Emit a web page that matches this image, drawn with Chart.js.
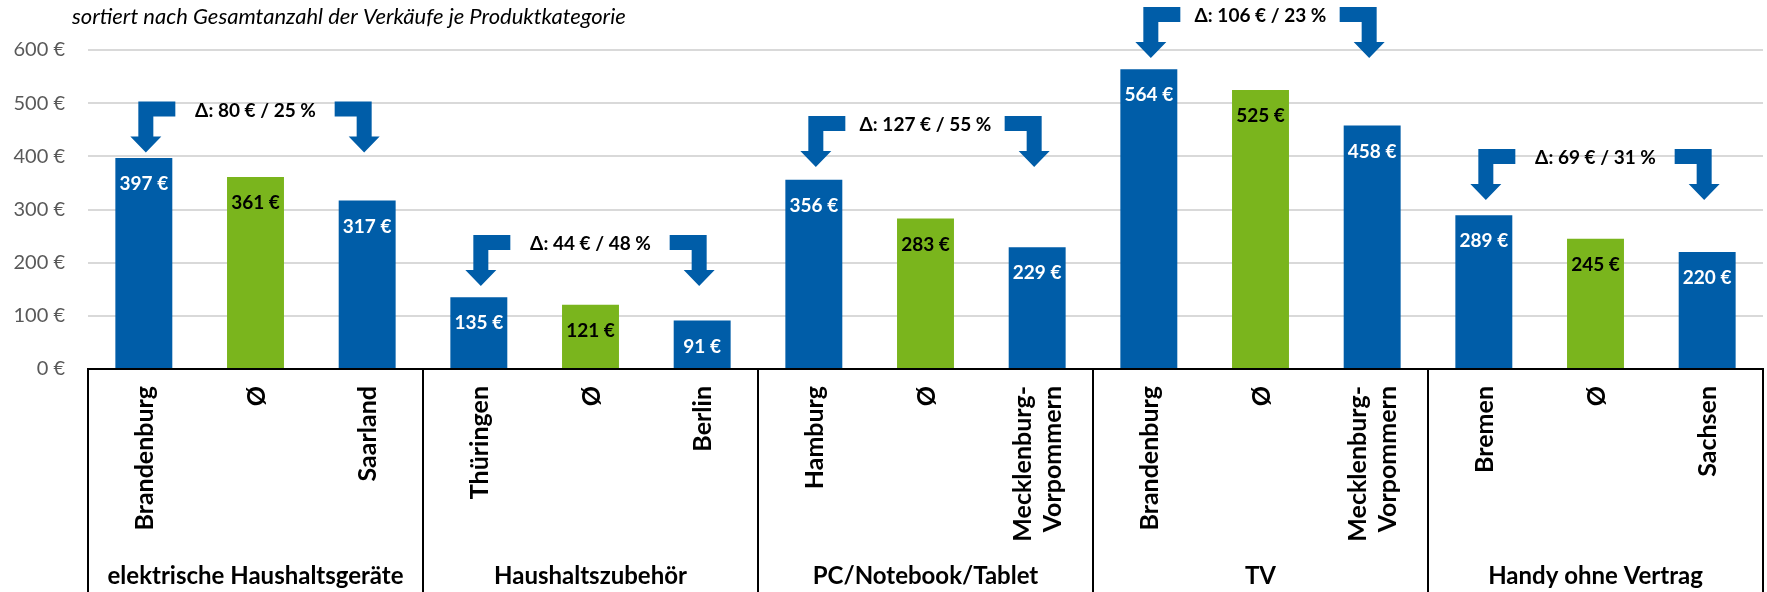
<!DOCTYPE html>
<html>
<head>
<meta charset="utf-8">
<script src="https://cdn.jsdelivr.net/npm/chart.js@4.4.1/dist/chart.umd.min.js"></script>
<style>
  html, body { margin: 0; padding: 0; background: #fff; }
  #wrap { width: 1767px; height: 592px; position: relative; }
</style>
</head>
<body>
<div id="wrap"><canvas id="myChart"></canvas></div>
<script>
var groups = ["elektrische Haushaltsgeräte", "Haushaltszubehör", "PC/Notebook/Tablet", "TV", "Handy ohne Vertrag"];
var categories = [
  "Brandenburg", "Ø", "Saarland",
  "Thüringen", "Ø", "Berlin",
  "Hamburg", "Ø", ["Mecklenburg-", "Vorpommern"],
  "Brandenburg", "Ø", ["Mecklenburg-", "Vorpommern"],
  "Bremen", "Ø", "Sachsen"
];
var values = [397, 361, 317, 135, 121, 91, 356, 283, 229, 564, 525, 458, 289, 245, 220];
var isAverage = [false, true, false, false, true, false, false, true, false, false, true, false, false, true, false];
var deltaLabels = ["Δ: 80 € / 25 %", "Δ: 44 € / 48 %", "Δ: 127 € / 55 %", "Δ: 106 € / 23 %", "Δ: 69 € / 31 %"];
// value level (€) the arrow tips point at, per group
var arrowLevels = [407, 156, 380, 585, 318];
var yTicks = [0, 100, 200, 300, 400, 500, 600];

var BLUE = "#005da8";
var GREEN = "#7ab51d";
var FONT = "Lato, 'Open Sans', sans-serif";

function drawArrow(ctx, cx, tipY, dir) {
  // bent arrow: horizontal arm at top, shaft down, head pointing down
  var topY = tipY - 51;
  var sw = 7.5, hw = 15.5, hh = 16, arm = 15, len = 37;
  ctx.beginPath();
  if (dir > 0) {
    ctx.moveTo(cx - sw, topY);
    ctx.lineTo(cx - sw + len, topY);
    ctx.lineTo(cx - sw + len, topY + arm);
    ctx.lineTo(cx + sw, topY + arm);
    ctx.lineTo(cx + sw, tipY - hh);
    ctx.lineTo(cx + hw, tipY - hh);
    ctx.lineTo(cx, tipY);
    ctx.lineTo(cx - hw, tipY - hh);
    ctx.lineTo(cx - sw, tipY - hh);
  } else {
    ctx.moveTo(cx + sw, topY);
    ctx.lineTo(cx + sw - len, topY);
    ctx.lineTo(cx + sw - len, topY + arm);
    ctx.lineTo(cx - sw, topY + arm);
    ctx.lineTo(cx - sw, tipY - hh);
    ctx.lineTo(cx - hw, tipY - hh);
    ctx.lineTo(cx, tipY);
    ctx.lineTo(cx + hw, tipY - hh);
    ctx.lineTo(cx + sw, tipY - hh);
  }
  ctx.closePath();
  ctx.fill();
  return topY;
}

var extras = {
  id: "extras",
  afterDatasetsDraw: function (chart) {
    var ctx = chart.ctx;
    var x = chart.scales.x;
    var y = chart.scales.y;
    var area = chart.chartArea;
    var bars = chart.getDatasetMeta(0).data;

    ctx.save();
    // title
    ctx.fillStyle = "#000";
    ctx.font = "italic 22px " + FONT;
    ctx.textAlign = "left";
    ctx.textBaseline = "middle";
    ctx.fillText("sortiert nach Gesamtanzahl der Verkäufe je Produktkategorie", 72, 17);

    // value labels inside bars
    ctx.font = "bold 19px " + FONT;
    ctx.textAlign = "center";
    bars.forEach(function (bar, i) {
      ctx.fillStyle = isAverage[i] ? "#000" : "#fff";
      ctx.fillText(values[i] + " €", bar.x, bar.y + 26);
    });

    // arrows and delta labels
    groups.forEach(function (g, gi) {
      var tip = y.getPixelForValue(arrowLevels[gi]);
      ctx.fillStyle = BLUE;
      var top = drawArrow(ctx, x.getPixelForValue(gi * 3) + 2, tip, 1);
      drawArrow(ctx, x.getPixelForValue(gi * 3 + 2) - 3, tip, -1);
      ctx.fillStyle = "#000";
      ctx.font = "bold 19px " + FONT;
      ctx.textAlign = "center";
      ctx.fillText(deltaLabels[gi], x.getPixelForValue(gi * 3 + 1), top + 9);
    });

    // category labels (rotated)
    ctx.font = "bold 25px " + FONT;
    ctx.fillStyle = "#000";
    categories.forEach(function (lab, i) {
      var lines = Array.isArray(lab) ? lab : [lab];
      ctx.save();
      ctx.translate(x.getPixelForValue(i) + 1, area.bottom + 17);
      ctx.rotate(-Math.PI / 2);
      ctx.textAlign = "right";
      ctx.textBaseline = "middle";
      lines.forEach(function (l, k) {
        ctx.fillText(l, 0, (k - (lines.length - 1) / 2) * 30);
      });
      ctx.restore();
    });

    // group labels
    ctx.font = "bold 24px " + FONT;
    ctx.textAlign = "center";
    ctx.textBaseline = "middle";
    groups.forEach(function (g, gi) {
      ctx.fillText(g, x.getPixelForValue(gi * 3 + 1), 576);
    });

    // box separators
    ctx.strokeStyle = "#000";
    ctx.lineWidth = 2;
    for (var gi = 0; gi <= groups.length; gi++) {
      var px;
      if (gi === 0) px = area.left;
      else if (gi === groups.length) px = area.right;
      else px = (x.getPixelForValue(gi * 3 - 1) + x.getPixelForValue(gi * 3)) / 2;
      ctx.beginPath();
      ctx.moveTo(px, area.bottom);
      ctx.lineTo(px, chart.height);
      ctx.stroke();
    }
    ctx.restore();
  }
};

var data = {
  labels: categories,
  datasets: [
    {
      data: values,
      backgroundColor: isAverage.map(function (a) { return a ? GREEN : BLUE; }),
      categoryPercentage: 1,
      barPercentage: 0.51,
    },
  ],
};

var config = {
  type: "bar",
  data: data,
  options: {
    responsive: true,
    maintainAspectRatio: false,
    animation: false,
    layout: { padding: { top: 50, right: 4, bottom: 0, left: 0 } },
    plugins: { legend: { display: false }, tooltip: { enabled: false } },
    scales: {
      x: {
        grid: { display: false },
        border: { display: true, color: "#000", width: 2 },
        ticks: { display: false },
        afterFit: function (s) { s.height = 223; },
      },
      y: {
        min: 0,
        max: 600,
        afterBuildTicks: function (s) {
          s.ticks = yTicks.map(function (v) { return { value: v }; });
        },
        grid: { color: "#d9d9d9", lineWidth: 2, drawTicks: false },
        border: { display: false },
        ticks: {
          padding: 23,
          color: "#595959",
          font: { family: FONT, size: 20 },
          callback: function (v) { return v + " €"; },
        },
        afterFit: function (s) { s.width = 88; },
      },
    },
  },
  plugins: [extras],
};

var myChart = new Chart(document.getElementById("myChart"), config);
</script>
</body>
</html>
